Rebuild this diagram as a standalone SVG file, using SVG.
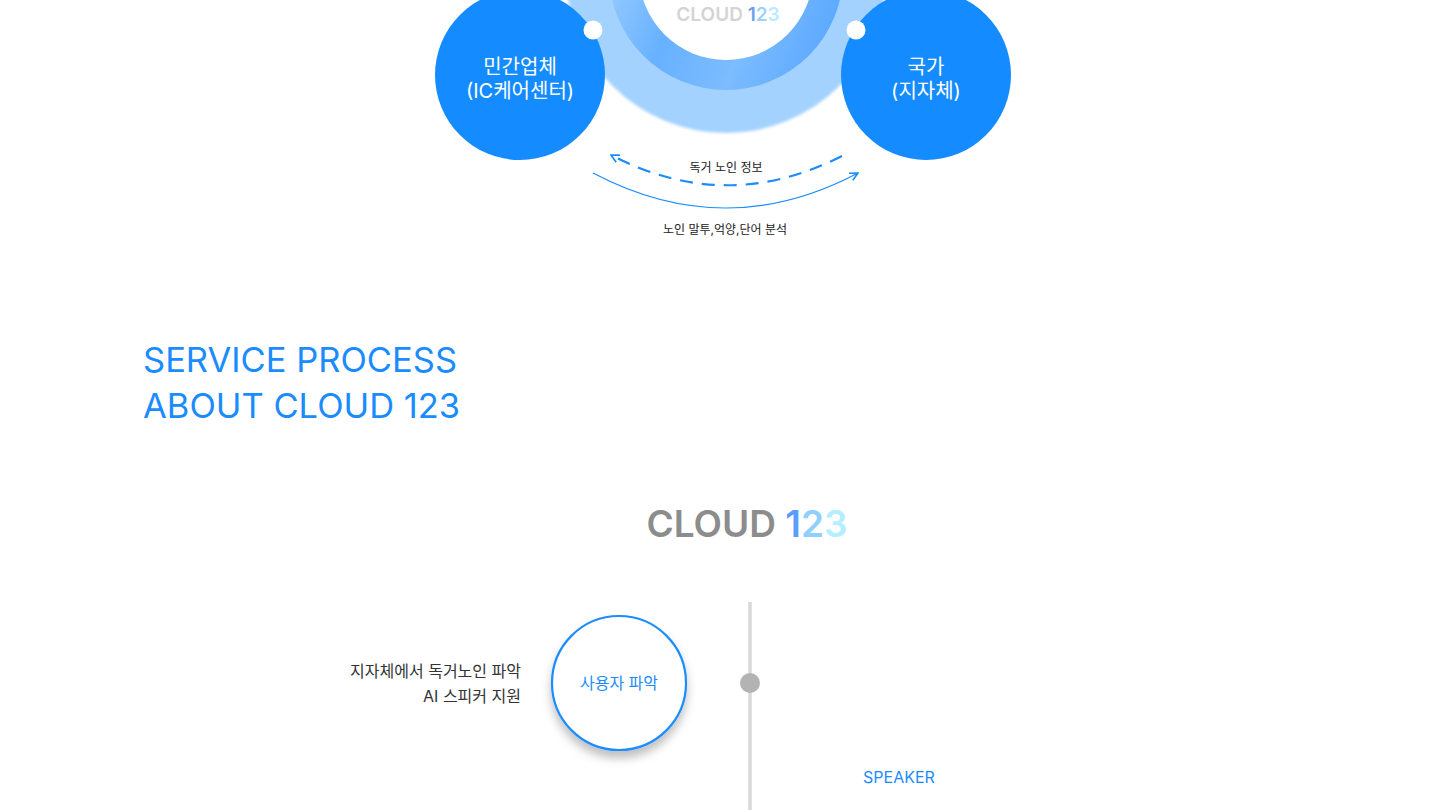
<svg xmlns="http://www.w3.org/2000/svg" width="1440" height="810" viewBox="0 0 1440 810">
<defs>
<style>
.kr{font-family:Inter,"Noto Sans CJK KR",sans-serif}
.wt{fill:#ffffff;font-size:20px;text-anchor:middle}
.lbl{fill:#222222;font-size:12px;text-anchor:middle}
.desc{fill:#333333;font-size:16px;text-anchor:end}
.title{fill:#1a8cff;font-size:34.5px}
.node{fill:#148cff}
</style>
<linearGradient id="midg" x1="0" y1="0.2" x2="1" y2="0.6">
<stop offset="0" stop-color="#a9d5ff"/>
<stop offset="0.4" stop-color="#67b1ff"/>
<stop offset="0.7" stop-color="#7cbcff"/>
<stop offset="1" stop-color="#5eaaff"/>
</linearGradient>
<filter id="soft" x="-10%" y="-10%" width="120%" height="120%">
<feGaussianBlur stdDeviation="1.5"/>
</filter>
<filter id="shadow" x="-30%" y="-30%" width="160%" height="170%">
<feDropShadow dx="0" dy="7" stdDeviation="5" flood-color="#000000" flood-opacity="0.25"/>
</filter>
<marker id="chev" viewBox="0 0 10 10" refX="9" refY="5" markerWidth="10" markerHeight="10" markerUnits="userSpaceOnUse" orient="auto">
<path d="M1,1 L9,5 L1,9" fill="none" stroke="#1a8cff" stroke-width="1.6"/>
</marker>
</defs>
<rect width="1440" height="810" fill="#ffffff"/>

<g id="ring">
<circle cx="726" cy="-27" r="160" fill="#a3d2ff" filter="url(#soft)"/>
<circle cx="726" cy="-27" r="117" fill="url(#midg)"/>
<circle cx="726" cy="-27" r="87" fill="#ffffff"/>
<text x="728" y="21" font-family="Inter,sans-serif" font-size="19" font-weight="600" text-anchor="middle"><tspan fill="#d4d4d4">CLOUD </tspan><tspan fill="#6f9df2">1</tspan><tspan fill="#9cd2ff">2</tspan><tspan fill="#b8ecff">3</tspan></text>
</g>

<g id="node-private">
<circle class="node" cx="520" cy="75" r="85"/>
<circle cx="593" cy="30" r="9.5" fill="#ffffff"/>
<text class="kr wt" x="520" y="74">민간업체</text>
<text class="kr wt" x="520" y="98">(IC케어센터)</text>
</g>

<g id="node-state">
<circle class="node" cx="926" cy="75" r="85"/>
<circle cx="856" cy="30" r="9.5" fill="#ffffff"/>
<text class="kr wt" x="926" y="74">국가</text>
<text class="kr wt" x="926" y="98">(지자체)</text>
</g>

<g id="connectors">
<path d="M842,156 Q726,215 611,155" fill="none" stroke="#1a8cff" stroke-width="2.2" stroke-dasharray="13,9" marker-end="url(#chev)"/>
<path d="M593,173 Q726,243 858,173" fill="none" stroke="#1a8cff" stroke-width="1.2" marker-end="url(#chev)"/>
<text class="kr lbl" x="726" y="172">독거 노인 정보</text>
<text class="kr lbl" x="725" y="234">노인 말투,억양,단어 분석</text>
</g>

<g id="heading">
<text class="kr title" x="143" y="372">SERVICE PROCESS</text>
<text class="kr title" x="143" y="418">ABOUT CLOUD 123</text>
</g>

<g id="logo">
<text x="747" y="537" font-family="Inter,sans-serif" font-size="37" font-weight="600" text-anchor="middle"><tspan fill="#8c8c8c">CLOUD </tspan><tspan fill="#5b9cff">1</tspan><tspan fill="#8fd0ff">2</tspan><tspan fill="#b5eeff">3</tspan></text>
</g>

<g id="timeline">
<line x1="750" y1="602" x2="750" y2="810" stroke="#d9d9d9" stroke-width="3.5"/>
<circle cx="750" cy="683" r="10" fill="#b3b3b3"/>
</g>

<g id="step-user">
<circle cx="619" cy="683" r="67" fill="#ffffff" stroke="#1a8cff" stroke-width="2.2" filter="url(#shadow)"/>
<text class="kr" x="619" y="689" font-size="16" fill="#1a8cff" text-anchor="middle">사용자 파악</text>
<text class="kr desc" x="521" y="677">지자체에서 독거노인 파악</text>
<text class="kr desc" x="521" y="702">AI 스피커 지원</text>
<text class="kr" x="899" y="783" font-size="16" fill="#1a8cff" text-anchor="middle">SPEAKER</text>
</g>
</svg>
